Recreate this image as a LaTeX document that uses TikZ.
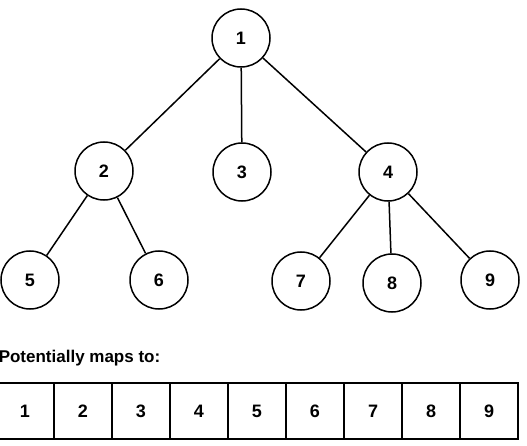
\documentclass[tikz,border=0pt]{standalone}
\usepackage{fontspec}
\setmainfont{Liberation Sans}
\usepackage{tikz}

\begin{document}
\begin{tikzpicture}
      [x=1pt, y=1pt, line width=1.5pt,
       vertex/.style={draw, circle, minimum size=58pt, inner sep=0pt,
         font=\fontsize{18}{21}\selectfont\bfseries},
       cell/.style={draw, rectangle, minimum width=58pt, minimum height=56pt,
         inner sep=0pt, outer sep=0pt, font=\fontsize{18}{21}\selectfont\bfseries}]
      \useasboundingbox (0, 0) rectangle (527, 445);
      % tree
      \node[vertex](1) at (241, 407) {1};
      \node[vertex](2) at (104, 274) {2};
      \node[vertex](3) at (242, 273) {3};
      \node[vertex](4) at (388, 273) {4};
      \node[vertex](5) at (30, 165) {5};
      \node[vertex](6) at (159, 165) {6};
      \node[vertex](7) at (301, 164) {7};
      \node[vertex](8) at (392, 162) {8};
      \node[vertex](9) at (490, 165) {9};
      \draw(1) -- (2);
      \draw(1) -- (3);
      \draw(1) -- (4);
      \draw(2) -- (5);
      \draw(2) -- (6);
      \draw(4) -- (7);
      \draw(4) -- (8);
      \draw(4) -- (9);
      % array
      \node[anchor=base west, inner sep=0pt, font=\fontsize{17}{20}\selectfont\bfseries](caption)
        at (-2, 83) {Potentially maps to:};
      \node[cell](c1) at (25, 34) {1};
      \node[cell](c2) at (83, 34) {2};
      \node[cell](c3) at (141, 34) {3};
      \node[cell](c4) at (199, 34) {4};
      \node[cell](c5) at (257, 34) {5};
      \node[cell](c6) at (315, 34) {6};
      \node[cell](c7) at (373, 34) {7};
      \node[cell](c8) at (431, 34) {8};
      \node[cell](c9) at (489, 34) {9};
  \end{tikzpicture}
\end{document}
